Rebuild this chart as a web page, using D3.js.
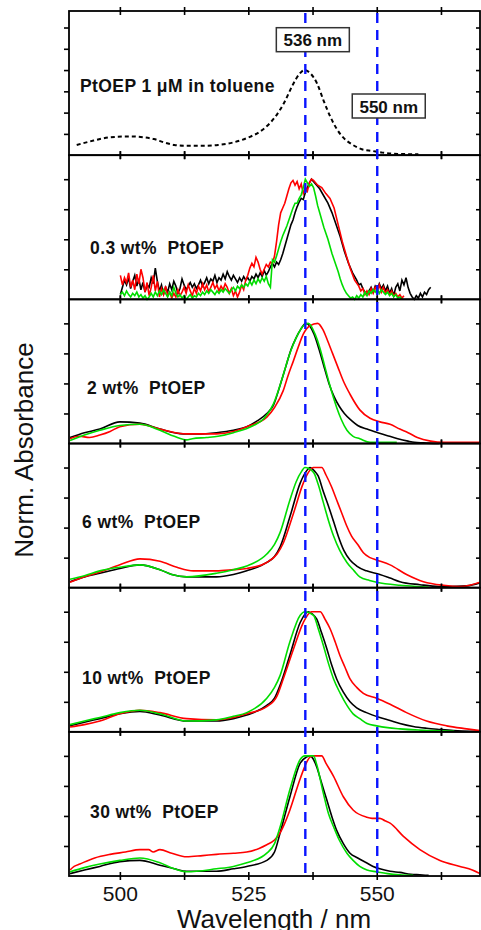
<!DOCTYPE html>
<html>
<head>
<meta charset="utf-8">
<script src="https://cdn.jsdelivr.net/npm/d3@7"></script>
<style>
  body { margin: 0; background: #fff; }
  svg { display: block; }
  text { font-family: "Liberation Sans", Arial, sans-serif; fill: #111; }
  .lbl { font-weight: bold; font-size: 17px; white-space: pre; }
  .plbl { font-size: 17.5px; letter-spacing: 0.4px; }
</style>
</head>
<body>
<svg id="chart" width="481" height="930"></svg>
<script>
// Wavelength axis
const xTicksMajor = [500, 525, 550];
const xTicksMinor = [512.5, 537.5, 562.5];
const markers = [536, 550];
const markerLabels = ["536 nm", "550 nm"];

const panelLabels = [
  "PtOEP 1 \u03bcM in toluene",
  "0.3 wt%  PtOEP",
  "2 wt%  PtOEP",
  "6 wt%  PtOEP",
  "10 wt%  PtOEP",
  "30 wt%  PtOEP"
];

// [wavelength nm, normalised absorbance]
const toluene = [[491.5,0.12],[494,0.16],[498,0.21],[502,0.22],[504.5,0.21],[506.5,0.19],[508.5,0.15],[510.5,0.12],[512.5,0.11],[516,0.11],[519,0.12],[522,0.15],[525,0.21],[527,0.27],[529,0.37],[530.5,0.48],[532,0.63],[533.5,0.82],[534.8,0.95],[535.8,1.0],[537,0.96],[538.3,0.84],[539.5,0.65],[540.8,0.46],[542.2,0.3],[543.5,0.2],[545,0.13],[547,0.07],[549,0.05],[551,0.03],[554,0.015],[558,0.01]];

const black03 = [[500.0,0.04],[500.4,0.10],[500.8,0.16],[501.2,0.12],[501.6,0.18],[502.0,0.09],[502.4,0.15],[502.8,0.20],[503.2,0.11],[503.6,0.17],[504.0,0.08],[504.4,0.14],[504.8,0.06],[505.2,0.12],[505.6,0.10],[506.0,0.18],[506.4,0.13],[506.8,0.26],[507.2,0.15],[507.6,0.07],[508.0,0.12],[508.4,0.04],[508.8,0.10],[509.2,0.06],[509.6,0.13],[510.0,0.08],[510.4,0.15],[510.8,0.11],[511.2,0.05],[511.6,0.09],[512.0,0.17],[512.4,0.12],[512.8,0.08],[513.2,0.11],[513.6,0.14],[514.0,0.10],[514.4,0.13],[514.8,0.09],[515.2,0.12],[515.6,0.16],[516.0,0.11],[516.4,0.14],[516.8,0.18],[517.2,0.13],[517.6,0.17],[518.0,0.15],[518.4,0.20],[518.8,0.14],[519.2,0.18],[519.6,0.16],[520.0,0.21],[520.4,0.17],[520.8,0.23],[521.2,0.19],[521.6,0.16],[522.0,0.20],[522.4,0.17],[522.8,0.14],[523.2,0.18],[523.6,0.15],[524.0,0.19],[524.4,0.16],[524.8,0.18],[525.2,0.15],[525.6,0.19],[526.0,0.17],[526.4,0.21],[526.8,0.18],[527.2,0.22],[527.6,0.19],[528.0,0.24],[528.4,0.20],[528.8,0.23],[529.2,0.27],[529.6,0.30],[530.0,0.27],[530.4,0.31],[530.8,0.29],[531.2,0.33],[531.6,0.38],[532.0,0.44],[532.4,0.50],[532.8,0.56],[533.2,0.62],[533.6,0.66],[534.0,0.72],[534.4,0.77],[534.8,0.81],[535.2,0.84],[535.6,0.83],[536.0,0.89],[536.4,0.93],[536.8,0.97],[537.2,1.00],[538.0,0.96],[538.8,0.92],[539.6,0.86],[540.4,0.80],[541.2,0.72],[542.0,0.62],[542.8,0.52],[543.6,0.40],[544.4,0.30],[545.2,0.22],[546.0,0.16],[546.4,0.12],[546.8,0.13],[547.2,0.09],[547.6,0.06],[548.0,0.04],[548.4,0.07],[548.8,0.10],[549.2,0.06],[549.6,0.11],[550.0,0.08],[550.4,0.13],[550.8,0.09],[551.2,0.12],[551.6,0.07],[552.0,0.11],[552.4,0.05],[552.8,0.09],[553.2,0.03],[553.6,0.10],[554.0,0.13],[554.4,0.07],[554.8,0.16],[555.2,0.12],[555.6,0.18],[556.0,0.10],[556.4,0.05],[556.8,0.02],[557.2,0.00],[557.6,0.03],[558.0,0.01],[558.4,0.05],[558.8,0.02],[559.2,0.06],[559.6,0.04],[560.0,0.08],[560.4,0.10]];

const red03 = [[500.0,0.20],[500.4,0.12],[500.8,0.18],[501.2,0.14],[501.6,0.22],[502.0,0.10],[502.4,0.16],[502.8,0.08],[503.2,0.21],[503.6,0.13],[504.0,0.25],[504.4,0.18],[504.8,0.06],[505.2,0.14],[505.6,0.03],[506.0,0.10],[506.4,0.20],[506.8,0.07],[507.2,0.15],[507.6,0.02],[508.0,0.09],[508.4,0.04],[508.8,0.11],[509.2,0.03],[509.6,0.06],[510.0,0.01],[510.4,0.05],[510.8,0.02],[511.2,0.08],[511.6,0.03],[512.0,0.06],[512.4,0.10],[512.8,0.05],[513.2,0.12],[513.6,0.07],[514.0,0.03],[514.4,0.09],[514.8,0.05],[515.2,0.11],[515.6,0.07],[516.0,0.13],[516.4,0.08],[516.8,0.12],[517.2,0.06],[517.6,0.10],[518.0,0.14],[518.4,0.09],[518.8,0.12],[519.2,0.07],[519.6,0.11],[520.0,0.08],[520.4,0.13],[520.8,0.10],[521.2,0.05],[521.6,0.09],[522.0,0.03],[522.4,0.07],[522.8,0.02],[523.2,0.06],[523.6,0.12],[524.0,0.08],[524.4,0.16],[524.8,0.20],[525.2,0.26],[525.6,0.30],[526.0,0.27],[526.4,0.35],[526.8,0.31],[527.2,0.25],[527.6,0.21],[528.0,0.25],[528.4,0.29],[528.8,0.27],[529.2,0.31],[529.6,0.30],[530.0,0.36],[530.4,0.48],[530.8,0.62],[531.2,0.72],[531.6,0.76],[532.0,0.80],[532.4,0.86],[532.8,0.92],[533.2,0.97],[533.6,0.99],[534.0,0.95],[534.4,0.98],[534.8,0.92],[535.2,0.96],[535.6,0.88],[536.0,0.93],[536.4,0.90],[536.8,0.97],[537.2,1.00],[537.6,0.99],[538.4,0.95],[539.2,0.93],[540.0,0.88],[540.8,0.84],[541.6,0.76],[542.4,0.62],[543.2,0.48],[544.0,0.36],[544.8,0.25],[545.6,0.16],[546.4,0.11],[546.8,0.07],[547.2,0.09],[547.6,0.04],[548.0,0.07],[548.4,0.04],[548.8,0.09],[549.2,0.05],[549.6,0.10],[550.0,0.07],[550.4,0.12],[550.8,0.06],[551.2,0.10],[551.6,0.05],[552.0,0.08],[552.4,0.04],[552.8,0.07],[553.2,0.03],[553.6,0.05],[554.0,0.02],[554.4,0.04],[554.8,0.01],[555.2,0.03]];

const green03 = [[500.0,0.04],[500.4,0.06],[500.8,0.03],[501.2,0.07],[501.6,0.04],[502.0,0.02],[502.4,0.05],[502.8,0.03],[503.2,0.06],[503.6,0.02],[504.0,0.04],[504.4,0.01],[504.8,0.03],[505.2,0.00],[505.6,0.02],[506.0,0.05],[506.4,0.02],[506.8,0.06],[507.2,0.03],[507.6,0.07],[508.0,0.04],[508.4,0.08],[508.8,0.05],[509.2,0.02],[509.6,0.06],[510.0,0.03],[510.4,0.10],[510.8,0.05],[511.2,0.02],[511.6,0.04],[512.0,0.01],[512.4,0.03],[512.8,0.00],[513.2,0.02],[513.6,0.04],[514.0,0.01],[514.4,0.03],[514.8,0.02],[515.2,0.05],[515.6,0.03],[516.0,0.06],[516.4,0.04],[516.8,0.07],[517.2,0.05],[517.6,0.08],[518.0,0.06],[518.4,0.04],[518.8,0.07],[519.2,0.05],[519.6,0.08],[520.0,0.06],[520.4,0.09],[520.8,0.07],[521.2,0.05],[521.6,0.08],[522.0,0.10],[522.4,0.07],[522.8,0.11],[523.2,0.09],[523.6,0.12],[524.0,0.10],[524.4,0.13],[524.8,0.11],[525.2,0.15],[525.6,0.12],[526.0,0.16],[526.4,0.13],[526.8,0.17],[527.2,0.14],[527.6,0.18],[528.0,0.15],[528.4,0.19],[528.8,0.13],[529.2,0.10],[529.6,0.33],[530.0,0.31],[530.4,0.36],[530.8,0.42],[531.2,0.48],[531.6,0.53],[532.0,0.57],[532.4,0.61],[532.8,0.66],[533.2,0.71],[533.6,0.76],[534.0,0.80],[534.4,0.80],[534.8,0.84],[535.2,0.87],[535.6,0.93],[536.0,1.00],[536.4,0.97],[536.8,0.94],[537.2,0.96],[537.6,0.93],[538.0,0.86],[538.4,0.78],[538.8,0.72],[539.2,0.66],[539.6,0.60],[540.0,0.55],[540.4,0.50],[540.8,0.44],[541.2,0.38],[541.6,0.33],[542.0,0.28],[542.4,0.23],[542.8,0.17],[543.2,0.12],[543.6,0.08],[544.0,0.05],[544.4,0.03],[544.8,0.01],[545.2,0.02],[545.6,0.00],[546.0,0.03],[546.4,0.01],[546.8,0.04],[547.2,0.02],[547.6,0.06],[548.0,0.03],[548.4,0.07],[548.8,0.05],[549.2,0.08],[549.6,0.06],[550.0,0.09],[550.4,0.05],[550.8,0.08],[551.2,0.06],[551.6,0.04],[552.0,0.06],[552.4,0.03],[552.8,0.05],[553.2,0.02],[553.6,0.04],[554.0,0.01],[554.4,0.02],[554.8,0.00]];

const black2 = [[490.2,0.05],[493,0.09],[496,0.12],[499.9,0.18],[503.8,0.17],[507.7,0.12],[512.2,0.08],[515,0.08],[518.7,0.09],[522,0.11],[524.6,0.14],[526.7,0.19],[528.5,0.25],[529.8,0.32],[531.2,0.5],[532.2,0.64],[533.2,0.78],[534.2,0.88],[535.1,0.95],[536.1,1.0],[537,0.97],[537.7,0.91],[538.7,0.78],[539.7,0.63],[540.6,0.5],[541.6,0.39],[542.6,0.31],[543.6,0.25],[545,0.19],[546.2,0.15],[548,0.12],[550.1,0.09],[552,0.065],[554,0.04],[556,0.02],[557.2,0.01],[559,0.005],[562,0.0]];
const red2 = [[490.2,0.04],[492,0.06],[494,0.05],[496,0.07],[498,0.1],[499.9,0.14],[503.8,0.16],[507.7,0.12],[512.9,0.08],[518.7,0.08],[522,0.1],[524.6,0.14],[528.5,0.22],[530,0.3],[531.7,0.44],[532.6,0.56],[533.7,0.69],[534.6,0.8],[535.6,0.91],[536.9,0.98],[538.4,1.0],[539.4,0.95],[540.3,0.86],[541.3,0.75],[542.3,0.64],[543.4,0.52],[544.7,0.41],[546.6,0.28],[548.6,0.21],[550.5,0.18],[552.5,0.16],[554.4,0.12],[556,0.09],[557.8,0.05],[560.4,0.02],[563,0.01],[566,0.01],[570,0.01]];
const green2 = [[490.2,0.025],[493,0.07],[496,0.11],[499.9,0.15],[503.8,0.16],[507.7,0.11],[510.5,0.06],[512.9,0.03],[514,0.04],[516.8,0.05],[519,0.06],[522,0.09],[525.9,0.15],[528,0.21],[529.8,0.33],[531.7,0.57],[532.6,0.7],[533.7,0.83],[534.7,0.92],[535.6,0.98],[536.6,1.0],[537.9,0.91],[538.8,0.8],[539.8,0.64],[540.8,0.48],[542.1,0.3],[543,0.2],[544.1,0.11],[545.3,0.06],[546.6,0.04],[548.6,0.01],[551,0.01],[553.8,0.01]];

const black6 = [[490.2,0.05],[493,0.09],[496,0.12],[499.9,0.16],[503.8,0.19],[507.7,0.15],[510,0.11],[512.9,0.09],[518.7,0.09],[522,0.11],[524.6,0.14],[528.5,0.21],[530,0.26],[531.1,0.34],[533,0.59],[535,0.87],[536.2,0.97],[536.9,1.0],[537.8,0.97],[538.5,0.93],[539.5,0.8],[540.5,0.68],[541.5,0.55],[542.4,0.43],[543.5,0.31],[544.7,0.23],[546,0.18],[547.9,0.14],[550.5,0.11],[552.5,0.08],[554.4,0.05],[558.3,0.025],[562,0.01],[563.5,0.01],[567.4,0.015],[570,0.04]];
const red6 = [[490.2,0.045],[493,0.09],[496,0.13],[499.9,0.19],[503.8,0.24],[507.7,0.22],[511,0.17],[514.2,0.14],[518.7,0.14],[522,0.15],[524.6,0.16],[528.5,0.21],[530.5,0.28],[531.7,0.37],[533.7,0.62],[535.6,0.87],[536.6,0.96],[537.6,1.0],[539.2,1.0],[540,0.94],[541.1,0.84],[542.1,0.73],[543.1,0.62],[544,0.52],[545,0.43],[546.2,0.36],[547.3,0.29],[548.6,0.25],[549.9,0.23],[552.5,0.19],[555.7,0.11],[559,0.05],[562.9,0.02],[566.1,0.01],[568,0.02],[570,0.045]];
const green6 = [[490.2,0.07],[493,0.1],[496,0.14],[499.9,0.17],[503.8,0.19],[507.7,0.15],[510,0.11],[512.9,0.09],[518.7,0.12],[522,0.15],[524.6,0.18],[528.5,0.28],[530,0.36],[531.1,0.46],[533,0.73],[534.2,0.88],[535.3,0.97],[535.9,1.0],[537.6,0.96],[538.5,0.86],[539.5,0.71],[540.5,0.56],[541.5,0.43],[542.7,0.31],[544.1,0.21],[545.5,0.14],[546.6,0.09],[548.5,0.06],[549.9,0.045],[554.4,0.02],[557.7,0.01],[560,0.005]];

const black10 = [[490.2,0.05],[493,0.08],[496,0.11],[499.9,0.15],[503.8,0.17],[507.7,0.14],[512.9,0.09],[518.7,0.09],[522,0.11],[524.6,0.14],[528.5,0.22],[530,0.28],[531.1,0.39],[533,0.64],[535,0.91],[536.6,1.0],[537.4,0.98],[538.2,0.94],[539.2,0.82],[540.2,0.69],[541.1,0.56],[542.1,0.44],[543.4,0.33],[544.7,0.25],[546,0.2],[547.9,0.16],[550.5,0.12],[552.5,0.095],[554.4,0.07],[557,0.045],[559.6,0.03],[562,0.02],[564.8,0.01],[568,0.005],[570,0.005]];
const red10 = [[490.2,0.04],[493,0.06],[496,0.09],[499.9,0.15],[503.8,0.18],[507.7,0.16],[512.9,0.11],[518.7,0.1],[522,0.12],[524.6,0.15],[528.5,0.21],[530.5,0.3],[531.7,0.44],[533.7,0.69],[535.6,0.91],[537.2,1.0],[538.9,1.0],[539.8,0.94],[540.8,0.86],[541.8,0.75],[542.7,0.64],[543.7,0.54],[544.7,0.44],[546,0.37],[547.3,0.32],[549.9,0.28],[552.5,0.23],[555.7,0.16],[559.6,0.09],[563.5,0.05],[567.4,0.025],[570,0.01]];
const green10 = [[490.2,0.06],[493,0.09],[496,0.12],[499.9,0.16],[503.8,0.18],[507.7,0.15],[512.9,0.09],[518.7,0.1],[522,0.13],[524.6,0.16],[528.5,0.28],[530,0.37],[531.1,0.47],[533,0.75],[535,0.97],[535.9,1.0],[537.6,0.97],[538.5,0.86],[539.5,0.72],[540.5,0.57],[541.5,0.44],[542.8,0.32],[544.1,0.22],[545.3,0.15],[546.6,0.11],[548,0.07],[549.9,0.05],[552,0.035],[554.4,0.025],[558,0.015],[560.9,0.01],[565,0.005]];

const black30 = [[490.2,0.02],[493,0.05],[496,0.08],[499.9,0.12],[503.8,0.13],[507.7,0.09],[510.5,0.06],[512.9,0.04],[518.7,0.04],[522,0.06],[524.6,0.08],[528.5,0.13],[530,0.2],[531.1,0.36],[533,0.66],[535,0.94],[536.2,0.99],[536.9,1.0],[537.6,0.97],[538.2,0.91],[539.2,0.77],[540.2,0.63],[541.2,0.49],[542.1,0.38],[543.4,0.27],[544.7,0.19],[546.2,0.15],[547.9,0.11],[549.2,0.08],[550.5,0.06],[552.5,0.04],[554.4,0.03],[556.5,0.015],[558.3,0.01],[560,0.005]];
const red30 = [[490.2,0.05],[491,0.08],[492.1,0.1],[495,0.15],[498,0.18],[501,0.2],[503.8,0.22],[505.5,0.22],[506.4,0.2],[507.7,0.22],[510,0.19],[512.9,0.16],[516,0.17],[518.7,0.18],[522,0.19],[524.6,0.2],[527,0.23],[528.5,0.26],[530,0.3],[531.1,0.36],[532,0.44],[533,0.55],[535,0.81],[536.3,0.95],[536.9,0.99],[537.6,1.0],[539.2,1.0],[540,0.94],[541.5,0.83],[543.4,0.66],[545.3,0.55],[547.9,0.49],[549,0.48],[550.5,0.48],[551.5,0.46],[552.5,0.44],[555.1,0.33],[558.3,0.22],[562.2,0.13],[566.1,0.08],[568.5,0.05],[570,0.02]];
const green30 = [[490.2,0.035],[493,0.07],[496,0.1],[499.9,0.13],[503.8,0.15],[507.7,0.11],[510.5,0.06],[512.9,0.035],[518.7,0.06],[522,0.08],[524.6,0.11],[528.5,0.19],[530,0.27],[531.1,0.41],[533,0.72],[535,0.97],[535.9,1.0],[537.6,1.0],[538.2,0.93],[539.5,0.69],[540.5,0.52],[541.5,0.41],[542.6,0.3],[544.1,0.19],[545.3,0.13],[546.6,0.08],[548,0.05],[549.9,0.035],[552,0.02],[554.4,0.01],[557,0.005]];

// which series go in which panel (black, red, green)
const panelSeries = [
  [toluene],
  [black03, red03, green03],
  [black2, red2, green2],
  [black6, red6, green6],
  [black10, red10, green10],
  [black30, red30, green30]
];
const seriesColors = ["#000", "#ff0000", "#00dd00"];

// layout
const left = 69, right = 480, top0 = 11, panelH = 144.17;
// label offsets inside each panel: [x, baseline from panel top]
const labelOffsets = [[80, 81], [90, 99], [87, 95], [82, 84], [82, 96], [90, 86]];

const svg = d3.select('#chart');

const x = d3.scaleLinear().domain([490, 570]).range([left, right]);

svg.append('defs').append('clipPath').attr('id', 'plotclip')
  .append('rect').attr('x', left).attr('y', top0)
  .attr('width', right - left).attr('height', panelH * 6);

const smooth = d3.line().curve(d3.curveMonotoneX);
const raw = d3.line();

panelSeries.forEach((series, i) => {
  const top = top0 + i * panelH;
  const bottom = top + panelH;
  // first panel is normalised to a lower max so the peak sits lower
  const yMax = i === 0 ? 1.694 : 1.2;
  const y = d3.scaleLinear().domain([0, yMax]).range([bottom, top]);
  const g = svg.append('g');
  const yt = [0.25, 0.5, 0.75, 1.0, 1.25, 1.5].filter(v => v < yMax);

  // y ticks: outward on the left, inward on the right
  g.append('g').attr('transform', `translate(${left},0)`)
    .call(d3.axisLeft(y).tickValues(yt).tickSize(5).tickFormat(''))
    .call(s => s.select('.domain').remove())
    .selectAll('line').attr('stroke', '#000').attr('stroke-width', 1.6);
  g.append('g').attr('transform', `translate(${right},0)`)
    .call(d3.axisRight(y).tickValues(yt).tickSize(-4).tickFormat(''))
    .call(s => s.select('.domain').remove())
    .selectAll('line').attr('stroke', '#000').attr('stroke-width', 1.6);

  // x ticks at bottom and top, crossing the frame
  [bottom, top].forEach(yy => {
    g.selectAll(null).data(xTicksMajor.concat(xTicksMinor)).enter().append('line')
      .attr('x1', d => x(d)).attr('x2', d => x(d))
      .attr('y1', yy - 4).attr('y2', yy + 4)
      .attr('stroke', '#000').attr('stroke-width', 1.6);
  });

  // curves
  const gen = i === 1 ? raw : smooth;
  gen.x(d => x(d[0])).y(d => y(d[1]));
  g.append('g').attr('clip-path', 'url(#plotclip)')
    .selectAll('path').data(series).enter().append('path')
    .attr('d', gen)
    .attr('fill', 'none')
    .attr('stroke', (d, k) => seriesColors[k])
    .attr('stroke-width', i === 0 ? 2 : 1.6)
    .attr('stroke-dasharray', i === 0 ? '4,3' : null);

  // frame
  g.append('rect').attr('x', left).attr('y', top)
    .attr('width', right - left).attr('height', panelH)
    .attr('fill', 'none').attr('stroke', '#000').attr('stroke-width', 1.8);

  g.append('text').attr('class', 'lbl plbl')
    .attr('x', labelOffsets[i][0]).attr('y', top + labelOffsets[i][1])
    .text(panelLabels[i]);
});

const bottomAll = top0 + 6 * panelH;

// marker lines
svg.selectAll('.marker').data(markers).enter().append('line')
  .attr('class', 'marker')
  .attr('x1', d => x(d)).attr('x2', d => x(d))
  .attr('y1', top0 + 2).attr('y2', bottomAll)
  .attr('stroke', '#0a14ff').attr('stroke-width', 2.4)
  .attr('stroke-dasharray', '10,7');

// marker labels in boxes
const boxPos = [[x(536) - 29, 27.7], [x(550) - 25, 94]];
markerLabels.forEach((t, k) => {
  const gb = svg.append('g');
  gb.append('rect').attr('x', boxPos[k][0]).attr('y', boxPos[k][1])
    .attr('width', 73).attr('height', 24)
    .attr('fill', '#fff').attr('stroke', '#333').attr('stroke-width', 1.5);
  gb.append('text').attr('class', 'lbl')
    .attr('x', boxPos[k][0] + 36.5).attr('y', boxPos[k][1] + 18.5)
    .attr('text-anchor', 'middle').text(t);
});

// x tick labels
svg.selectAll('.xt').data(xTicksMajor).enter().append('text')
  .attr('class', 'xt')
  .attr('x', d => x(d)).attr('y', 901)
  .attr('text-anchor', 'middle').attr('font-size', 21)
  .text(d => d);

svg.append('text').attr('x', 274).attr('y', 928)
  .attr('text-anchor', 'middle').attr('font-size', 26)
  .text('Wavelength / nm');

svg.append('text')
  .attr('transform', 'translate(33,450) rotate(-90)')
  .attr('text-anchor', 'middle').attr('font-size', 26)
  .text('Norm. Absorbance');
</script>
</body>
</html>
